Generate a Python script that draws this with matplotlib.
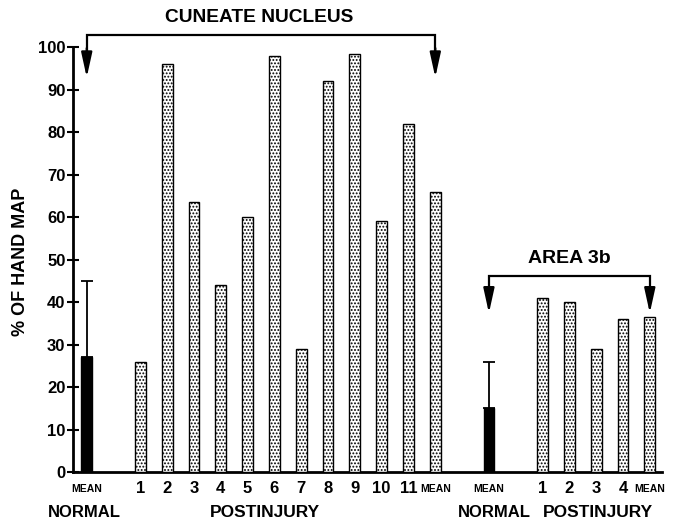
import matplotlib.pyplot as plt

plt.rcParams['font.family'] = ['Liberation Sans', 'DejaVu Sans']
plt.rcParams['font.weight'] = 'bold'
plt.rcParams['hatch.linewidth'] = 0.9

# cuneate nucleus
cn_normal_mean = 27
cn_normal_err = 18
cn_post = [26, 96, 63.5, 44, 60, 98, 29, 92, 98.5, 59, 82]
cn_post_mean = 66

# area 3b
a3_normal_mean = 15
a3_normal_err = 11
a3_post = [41, 40, 29, 36]
a3_post_mean = 36.5

cn_post_labels = [str(i) for i in range(1, 12)] + ['MEAN']
a3_post_labels = ['1', '2', '3', '4', 'MEAN']

x_cn_norm = 0
x_cn_post = list(range(2, 14))
x_a3_norm = 15
x_a3_post = list(range(17, 22))

fig = plt.figure(figsize=(6.74, 5.25), dpi=100)
ax = fig.add_axes([0.108, 0.101, 0.874, 0.809])

w = 0.4
ax.bar([x_cn_norm, x_a3_norm], [cn_normal_mean, a3_normal_mean], width=w,
       color='black', edgecolor='black', zorder=3)
ax.errorbar([x_cn_norm, x_a3_norm], [cn_normal_mean, a3_normal_mean],
            yerr=[[0, 0], [cn_normal_err, a3_normal_err]], fmt='none',
            ecolor='black', elinewidth=1.3, capsize=4, capthick=1.3, zorder=3)
ax.bar(x_cn_post, cn_post + [cn_post_mean], width=w, color='white',
       edgecolor='black', hatch='.....', linewidth=1, zorder=3)
ax.bar(x_a3_post, a3_post + [a3_post_mean], width=w, color='white',
       edgecolor='black', hatch='.....', linewidth=1, zorder=3)

ax.set_xlim(-0.52, 21.45)
ax.set_ylim(0, 100)
ax.set_yticks(range(0, 101, 10))
ax.tick_params(axis='y', direction='inout', length=8.6, width=1.5, pad=1,
               labelsize=12)
ax.set_xticks([])
for s in ['top', 'right']:
    ax.spines[s].set_visible(False)
ax.spines['left'].set_linewidth(2)
ax.spines['bottom'].set_linewidth(2)
fig.text(21 / 674, 0.501, '% OF HAND MAP', rotation=90, ha='center',
         va='center', fontsize=13, fontweight='bold')

# labels below bars
lab_y = -4.0
for xp, lb in zip([x_cn_norm] + x_cn_post + [x_a3_norm] + x_a3_post,
                  ['MEAN'] + cn_post_labels + ['MEAN'] + a3_post_labels):
    if lb == 'MEAN':
        ax.text(xp, lab_y, lb, ha='center', va='center', fontsize=7.5)
    else:
        ax.text(xp, lab_y, lb, ha='center', va='center', fontsize=12)

grp_y = -9.65
ax.text(-0.1, grp_y, 'NORMAL', ha='center', va='center', fontsize=12)
ax.text(6.64, grp_y, 'POSTINJURY', ha='center', va='center', fontsize=12.5)
ax.text(15.2, grp_y, 'NORMAL', ha='center', va='center', fontsize=12)
ax.text(19.05, grp_y, 'POSTINJURY', ha='center', va='center', fontsize=12.5)


# brackets with arrows
def bracket(x0, x1, ytop, ytip, label, xlab, ylab, fs):
    ax.plot([x0, x0, x1, x1], [ytop - 4, ytop, ytop, ytop - 4], color='black',
            lw=1.6, clip_on=False, solid_joinstyle='miter')
    for xx in (x0, x1):
        ax.annotate('', xy=(xx, ytip), xytext=(xx, ytop - 3),
                    arrowprops=dict(arrowstyle='-|>,head_length=1.5,head_width=0.33',
                                    color='black', lw=1.6, mutation_scale=10,
                                    shrinkA=0, shrinkB=0),
                    annotation_clip=False)
    ax.text(xlab, ylab, label, ha='center', va='center', fontsize=fs)


bracket(x_cn_norm, 13, 102.8, 92.9, 'CUNEATE NUCLEUS', 6.45, 107.1, 13.8)
bracket(x_a3_norm, 21, 46.1, 37.4, 'AREA 3b', 18.0, 50.2, 14)

fig.savefig('out.png', dpi=100)
